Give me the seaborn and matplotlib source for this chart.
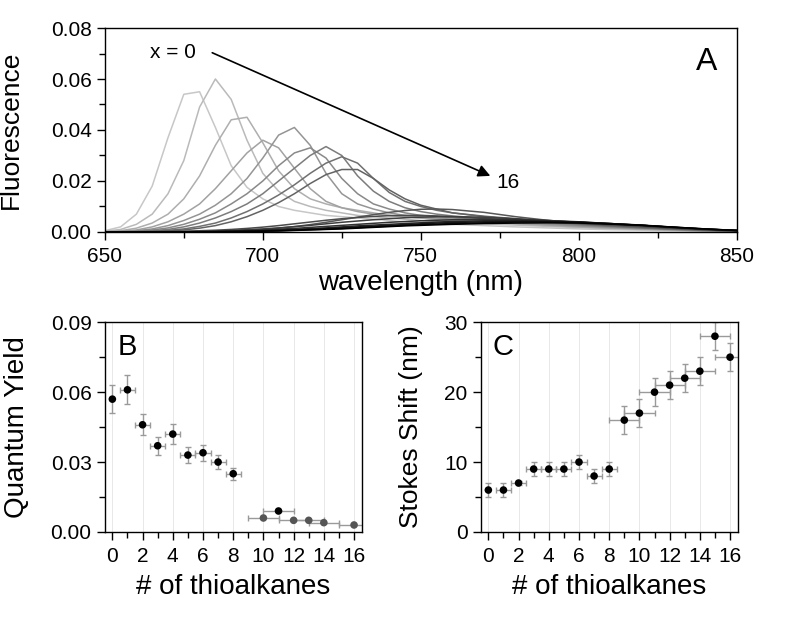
import matplotlib
matplotlib.use("Agg")
import matplotlib.pyplot as plt
import numpy as np
import pandas as pd
import seaborn as sns
from matplotlib.ticker import MultipleLocator, FormatStrFormatter

# wavelength grid (nm) used for all the spectra
wavelength = [650, 655, 660, 665, 670, 675, 680, 685, 690, 695, 700, 705, 710, 715,
              720, 725, 730, 735, 740, 745, 750, 755, 760, 770, 780, 790, 800, 810,
              820, 830, 840, 850]

# fluorescence spectra, in units of 1e-3, one list per x
fl_x0 = [0.5, 2, 7, 18, 37, 54, 55, 41, 26, 17.5, 13, 10, 8.5, 7.5, 6.5, 6, 5.5, 5, 4.5, 4,
         3.6, 3.3, 3, 2.5, 2, 1.6, 1.2, 0.9, 0.7, 0.5, 0.3, 0.2]
fl_x1 = [0.3, 1, 3, 7, 15, 28, 49, 60, 52, 36, 23, 16, 12, 10, 8.5, 7.5, 6.5, 6, 5.5, 5,
         4.5, 4, 3.7, 3.2, 2.7, 2.2, 1.7, 1.3, 1, 0.7, 0.5, 0.3]
fl_x2 = [0.2, 0.5, 1.5, 3.5, 7, 13, 22, 34, 44, 45, 35, 24, 17, 13, 11, 9.5, 8.5, 7.5, 6.5, 6,
         5.5, 5, 4.5, 3.8, 3.2, 2.6, 2, 1.5, 1.1, 0.8, 0.5, 0.3]
fl_x3 = [0.1, 0.3, 0.8, 2, 4, 7, 11, 17, 24, 31, 36, 33, 25, 17, 12, 9.5, 8, 7, 6.5, 6,
         5.5, 5, 4.5, 4, 3.3, 2.7, 2.1, 1.6, 1.2, 0.8, 0.5, 0.3]
fl_x4 = [0.1, 0.2, 0.5, 1.2, 2.5, 4.5, 7, 10.5, 15, 21, 29, 38, 41, 34, 23, 15, 11, 9, 7.5, 6.5,
         6, 5.5, 5, 4.3, 3.6, 3, 2.4, 1.8, 1.3, 0.9, 0.6, 0.4]
fl_x5 = [0, 0.1, 0.3, 0.8, 1.6, 3, 5, 7.5, 11, 15, 20, 26, 31, 33, 29, 21, 15, 11, 9, 7.5,
         6.5, 6, 5.5, 4.7, 4, 3.3, 2.6, 2, 1.5, 1, 0.6, 0.4]
fl_x6 = [0, 0.1, 0.2, 0.5, 1, 2, 3.5, 5.5, 8, 11, 15, 20, 25, 30, 33.5, 30, 22, 16, 12, 9.5,
         8, 7, 6.3, 5.3, 4.5, 3.7, 2.9, 2.2, 1.6, 1.1, 0.7, 0.4]
fl_x7 = [0, 0, 0.1, 0.3, 0.6, 1.2, 2.2, 3.5, 5.5, 8, 11, 14.5, 18.5, 23, 27, 29.5, 27, 21, 15.5, 12,
         10, 8.5, 7.5, 6, 5, 4, 3.1, 2.3, 1.7, 1.1, 0.7, 0.4]
fl_x8 = [0, 0, 0.1, 0.2, 0.4, 0.8, 1.5, 2.5, 4, 6, 8.5, 11.5, 15, 19, 22.5, 24.5, 24.5, 21, 16.5, 13,
         10.5, 9, 7.5, 6.2, 5.2, 4.2, 3.3, 2.5, 1.8, 1.2, 0.8, 0.4]
fl_x9 = [0, 0, 0, 0, 0, 0.1, 0.2, 0.3, 0.5, 0.7, 1, 1.5, 2.1, 2.9, 3.8, 4.8, 5.8, 6.8, 7.7, 8.4,
         8.9, 9, 8.8, 7.7, 6, 4.6, 3.6, 2.8, 2.1, 1.4, 0.8, 0.4]
fl_x10 = [0, 0, 0, 0.1, 0.2, 0.3, 0.5, 0.7, 1, 1.4, 1.9, 2.5, 3.2, 3.9, 4.6, 5.2, 5.7, 6.1, 6.4, 6.5,
          6.5, 6.3, 6, 5.3, 4.6, 4, 3.4, 2.8, 2.2, 1.5, 0.9, 0.5]
fl_x11 = [0, 0, 0, 0, 0.1, 0.1, 0.2, 0.4, 0.6, 0.9, 1.2, 1.6, 2.1, 2.6, 3.2, 3.8, 4.3, 4.8, 5.2, 5.6,
          5.8, 6, 6, 5.8, 5.2, 4.5, 3.8, 3.1, 2.4, 1.6, 1, 0.5]
fl_x12 = [0, 0, 0, 0, 0, 0.1, 0.1, 0.2, 0.4, 0.6, 0.8, 1.1, 1.4, 1.8, 2.2, 2.6, 3, 3.4, 3.8, 4.1,
          4.4, 4.6, 4.8, 5, 4.9, 4.5, 4, 3.3, 2.6, 1.8, 1.1, 0.6]
fl_x13 = [0, 0, 0, 0, 0, 0, 0.1, 0.2, 0.3, 0.4, 0.6, 0.8, 1, 1.3, 1.6, 2, 2.4, 2.7, 3, 3.3,
          3.6, 3.9, 4.1, 4.4, 4.5, 4.3, 3.9, 3.3, 2.6, 1.8, 1.1, 0.6]
fl_x14 = [0, 0, 0, 0, 0, 0, 0.1, 0.1, 0.2, 0.3, 0.5, 0.6, 0.8, 1.1, 1.4, 1.7, 2, 2.3, 2.6, 2.9,
          3.2, 3.5, 3.7, 4, 4.2, 4.1, 3.8, 3.2, 2.6, 1.8, 1.1, 0.6]
fl_x15 = [0, 0, 0, 0, 0, 0, 0, 0.1, 0.2, 0.3, 0.4, 0.5, 0.7, 0.9, 1.1, 1.4, 1.7, 2, 2.3, 2.6,
          2.9, 3.1, 3.3, 3.6, 3.9, 4, 3.8, 3.3, 2.7, 1.9, 1.2, 0.6]
fl_x16 = [0, 0, 0, 0, 0, 0, 0, 0.1, 0.1, 0.2, 0.3, 0.4, 0.6, 0.8, 1, 1.2, 1.5, 1.8, 2.1, 2.4,
          2.6, 2.8, 3, 3.3, 3.5, 3.6, 3.5, 3.1, 2.6, 1.9, 1.2, 0.6]
spectra = [fl_x0, fl_x1, fl_x2, fl_x3, fl_x4, fl_x5, fl_x6, fl_x7, fl_x8,
           fl_x9, fl_x10, fl_x11, fl_x12, fl_x13, fl_x14, fl_x15, fl_x16]

# panel B: quantum yield
qy_n = [0, 1, 2, 3, 4, 5, 6, 7, 8, 10, 11, 12, 13, 14, 16]
qy_n_err = [0, 0.5, 0.5, 0.5, 0.5, 0.5, 0.5, 0.5, 0.5, 1, 1, 1, 1, 1, 1]
qy = [0.057, 0.061, 0.046, 0.037, 0.042, 0.033, 0.034, 0.030, 0.025,
      0.006, 0.009, 0.005, 0.005, 0.004, 0.003]
qy_err = [0.0059, 0.0062, 0.0046, 0.0038, 0.0043, 0.0034, 0.0034, 0.0030, 0.0026,
          0, 0, 0, 0, 0, 0]
qy_faded = [False] * 9 + [True, False, True, True, True, True]

# panel C: Stokes shift
st_n = list(range(17))
st_n_err = [0] + [0.5] * 8 + [1] * 8
stokes = [6, 6, 7, 9, 9, 9, 10, 8, 9, 16, 17, 20, 21, 22, 23, 28, 25]
stokes_err = [1, 1, 0.3, 1, 1, 1, 1, 1, 1, 2, 2, 2, 2, 2, 2, 2, 2]

sns.set_theme(style="white")
plt.rcParams['font.family'] = ['Liberation Sans', 'DejaVu Sans']
plt.rcParams['text.color'] = 'black'
plt.rcParams['axes.labelcolor'] = 'black'
plt.rcParams['xtick.color'] = 'black'
plt.rcParams['ytick.color'] = 'black'
plt.rcParams['axes.edgecolor'] = 'black'
plt.rcParams['axes.linewidth'] = 1.0

fig = plt.figure(figsize=(8, 6.28), dpi=100)
axA = fig.add_axes([0.131, 0.6306, 0.79, 0.3248])
axB = fig.add_axes([0.131, 0.1529, 0.321, 0.334])
axC = fig.add_axes([0.601, 0.1529, 0.321, 0.334])

# ---- panel A ----
rows = []
for i, spec in enumerate(spectra):
    for w, v in zip(wavelength, spec):
        rows.append({"wavelength": w, "fluorescence": v * 1e-3, "x": i})
df_spec = pd.DataFrame(rows)
greys = [str(g) for g in np.linspace(0.78, 0.0, len(spectra))]
sns.lineplot(data=df_spec, x="wavelength", y="fluorescence", hue="x",
             palette=greys, legend=False, linewidth=1.1, ax=axA)
axA.set_xlim(650, 850)
axA.set_ylim(0, 0.08)
axA.xaxis.set_major_locator(MultipleLocator(50))
axA.xaxis.set_minor_locator(MultipleLocator(25))
axA.yaxis.set_major_locator(MultipleLocator(0.02))
axA.yaxis.set_minor_locator(MultipleLocator(0.01))
axA.yaxis.set_major_formatter(FormatStrFormatter('%.2f'))
axA.set_xlabel("wavelength (nm)", fontsize=20, va='top')
axA.set_ylabel("Fluorescence", fontsize=19)
axA.xaxis.set_label_coords(0.5, -0.185)
axA.yaxis.set_label_coords(-0.13, 0.5)
axA.annotate("", xy=(772, 0.022), xytext=(684, 0.0703),
             arrowprops=dict(arrowstyle="-|>", color="black", lw=1.2,
                             mutation_scale=18, shrinkA=0, shrinkB=0))
axA.text(671.5, 0.0703, "x = 0", fontsize=15, ha='center', va='center')
axA.text(774, 0.0193, "16", fontsize=15, ha='left', va='center')
axA.text(840.5, 0.0668, "A", fontsize=23, ha='center', va='center')


# ---- panels B and C ----
def scatter_panel(ax, xs, xerr, ys, yerr, colors):
    ax.grid(axis='x', color='#e8e8e8', linewidth=0.7)
    ax.set_axisbelow(True)
    ax.errorbar(xs, ys, xerr=xerr, yerr=yerr, fmt='none', ecolor='#9a9a9a',
                elinewidth=1.0, capsize=2.5, capthick=1.0, zorder=2)
    sns.scatterplot(x=xs, y=ys, hue=colors, palette={"k": "black", "g": "#555555"},
                    s=30, edgecolor='none', legend=False, ax=ax, zorder=3)
    ax.set_xlim(-0.5, 16.5)
    ax.xaxis.set_major_locator(MultipleLocator(2))
    ax.xaxis.set_minor_locator(MultipleLocator(1))
    ax.set_xlabel("# of thioalkanes", fontsize=20, va='top')
    ax.xaxis.set_label_coords(0.5, -0.2)


scatter_panel(axB, qy_n, qy_n_err, qy, qy_err, ["g" if f else "k" for f in qy_faded])
axB.set_ylim(0, 0.09)
axB.yaxis.set_major_locator(MultipleLocator(0.03))
axB.yaxis.set_minor_locator(MultipleLocator(0.015))
axB.yaxis.set_major_formatter(FormatStrFormatter('%.2f'))
axB.set_ylabel("Quantum Yield", fontsize=20)
axB.yaxis.set_label_coords(-0.29, 0.5)
axB.text(0.05, 0.88, "B", transform=axB.transAxes, fontsize=21, ha='left', va='center')

scatter_panel(axC, st_n, st_n_err, stokes, stokes_err, ["k"] * len(st_n))
axC.set_ylim(0, 30)
axC.yaxis.set_major_locator(MultipleLocator(10))
axC.yaxis.set_minor_locator(MultipleLocator(5))
axC.set_ylabel("Stokes Shift (nm)", fontsize=19)
axC.yaxis.set_label_coords(-0.225, 0.5)
axC.text(0.045, 0.88, "C", transform=axC.transAxes, fontsize=21, ha='left', va='center')

for ax in (axA, axB, axC):
    for sp in ax.spines.values():
        sp.set_visible(True)
        sp.set_color('black')
        sp.set_linewidth(1.0)
    ax.tick_params(which='both', direction='out', left=True, bottom=True,
                   top=False, right=False, colors='black', width=1.0)
    ax.tick_params(which='major', length=5.5, labelsize=15, pad=4)
    ax.tick_params(which='minor', length=4.5)
    ax.tick_params(axis='x', which='major', pad=5)

fig.savefig("out.png", dpi=100)
